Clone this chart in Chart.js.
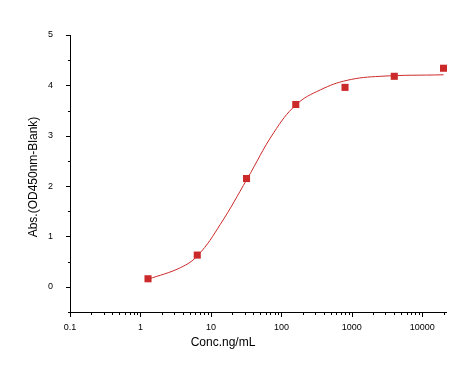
<!DOCTYPE html>
<html>
<head>
<meta charset="utf-8">
<script src="https://cdn.jsdelivr.net/npm/chart.js@4/dist/chart.umd.min.js"></script>
<style>
  html, body { margin: 0; padding: 0; background: #fff; }
  #wrap { position: relative; width: 472px; height: 369px; }
</style>
</head>
<body>
<div id="wrap"><canvas id="elisaChart" width="472" height="369"></canvas></div>
<script>
// measured points
const conc = [1.28, 6.4, 32, 160, 800, 4000, 20000];
const absValues = [0.16, 0.63, 2.15, 3.62, 3.96, 4.18, 4.34];

// fitted curve
const curveConc = [1.28, 3.69, 6.58, 13.6, 32.6, 77.8, 163, 357, 855, 2530, 20000];
const curveAbs = [0.15, 0.38, 0.63, 1.24, 2.14, 3.06, 3.62, 3.91, 4.10, 4.18, 4.21];

const xTickLabels = [0.1, 1, 10, 100, 1000, 10000];
const yTickLabels = [0, 1, 2, 3, 4, 5];

const red = '#cc2a2a';
const axisFont = { family: 'Liberation Sans, Arial, sans-serif', size: 9 };

// outward tick marks, major long and minor short, plus axis titles
const tickMarks = {
    id: 'tickMarks',
    afterDraw(chart) {
        const ctx = chart.ctx;
        const xs = chart.scales.x;
        const ys = chart.scales.y;
        const area = chart.chartArea;
        ctx.save();
        ctx.strokeStyle = '#000';
        ctx.lineWidth = 1;
        ctx.beginPath();
        ctx.moveTo(area.left + 0.5, area.top);
        ctx.lineTo(area.left + 0.5, area.bottom + 0.5);
        ctx.lineTo(area.right, area.bottom + 0.5);
        xs.ticks.forEach(t => {
            const px = Math.round(xs.getPixelForValue(t.value)) + 0.5;
            const len = xTickLabels.includes(t.value) ? 4 : 2;
            ctx.moveTo(px, area.bottom);
            ctx.lineTo(px, area.bottom + 1 + len);
        });
        ys.ticks.forEach(t => {
            const py = Math.round(ys.getPixelForValue(t.value)) + 0.5;
            const len = yTickLabels.includes(t.value) ? 4 : 2;
            ctx.moveTo(area.left, py);
            ctx.lineTo(area.left - len, py);
        });
        ctx.stroke();

        ctx.fillStyle = '#000';
        ctx.font = '12px Liberation Sans, Arial, sans-serif';
        ctx.textAlign = 'center';
        ctx.textBaseline = 'middle';
        ctx.fillText('Conc.ng/mL', 223, 343);
        ctx.translate(34, 177);
        ctx.rotate(-Math.PI / 2);
        ctx.fillText('Abs.(OD450nm-Blank)', 0, 0);
        ctx.restore();
    }
};

function initChart() {
    const ctx = document.getElementById('elisaChart').getContext('2d');
    return new Chart(ctx, {
        type: 'scatter',
        data: {
            datasets: [{
                label: 'Fit',
                data: curveConc.map((c, i) => ({ x: c, y: curveAbs[i] })),
                showLine: true,
                borderColor: red,
                borderWidth: 1,
                pointRadius: 0,
                tension: 0.4
            }, {
                label: 'Data',
                data: conc.map((c, i) => ({ x: c, y: absValues[i] })),
                pointStyle: 'rect',
                pointRadius: 5,
                backgroundColor: red,
                borderColor: red,
                borderWidth: 0
            }]
        },
        options: {
            responsive: false,
            animation: false,
            layout: { padding: { left: 0, right: 25, top: 35, bottom: 0 } },
            plugins: {
                legend: { display: false },
                tooltip: { enabled: false }
            },
            scales: {
                x: {
                    type: 'logarithmic',
                    min: 0.1,
                    max: 22400,
                    border: { display: false },
                    grid: { display: false },
                    afterBuildTicks: scale => {
                        const ticks = [];
                        xTickLabels.forEach(d => {
                            for (let m = 1; m <= 9; m++) {
                                const v = +(d * m).toPrecision(6);
                                if (v <= scale.max) ticks.push({ value: v });
                            }
                        });
                        scale.ticks = ticks;
                    },
                    afterFit: scale => { scale.height = 57; },
                    ticks: {
                        autoSkip: false,
                        maxRotation: 0,
                        padding: 2,
                        color: '#000',
                        font: axisFont,
                        callback: v => xTickLabels.includes(v) ? String(v) : ''
                    }
                },
                y: {
                    min: -0.5,
                    max: 5,
                    border: { display: false },
                    grid: { display: false },
                    afterFit: scale => { scale.width = 70; },
                    ticks: {
                        stepSize: 0.5,
                        padding: 9,
                        color: '#000',
                        font: axisFont,
                        callback: v => yTickLabels.includes(v) ? String(v) : ''
                    }
                }
            }
        },
        plugins: [tickMarks]
    });
}

document.addEventListener('DOMContentLoaded', () => {
    initChart();
});
</script>
</body>
</html>
